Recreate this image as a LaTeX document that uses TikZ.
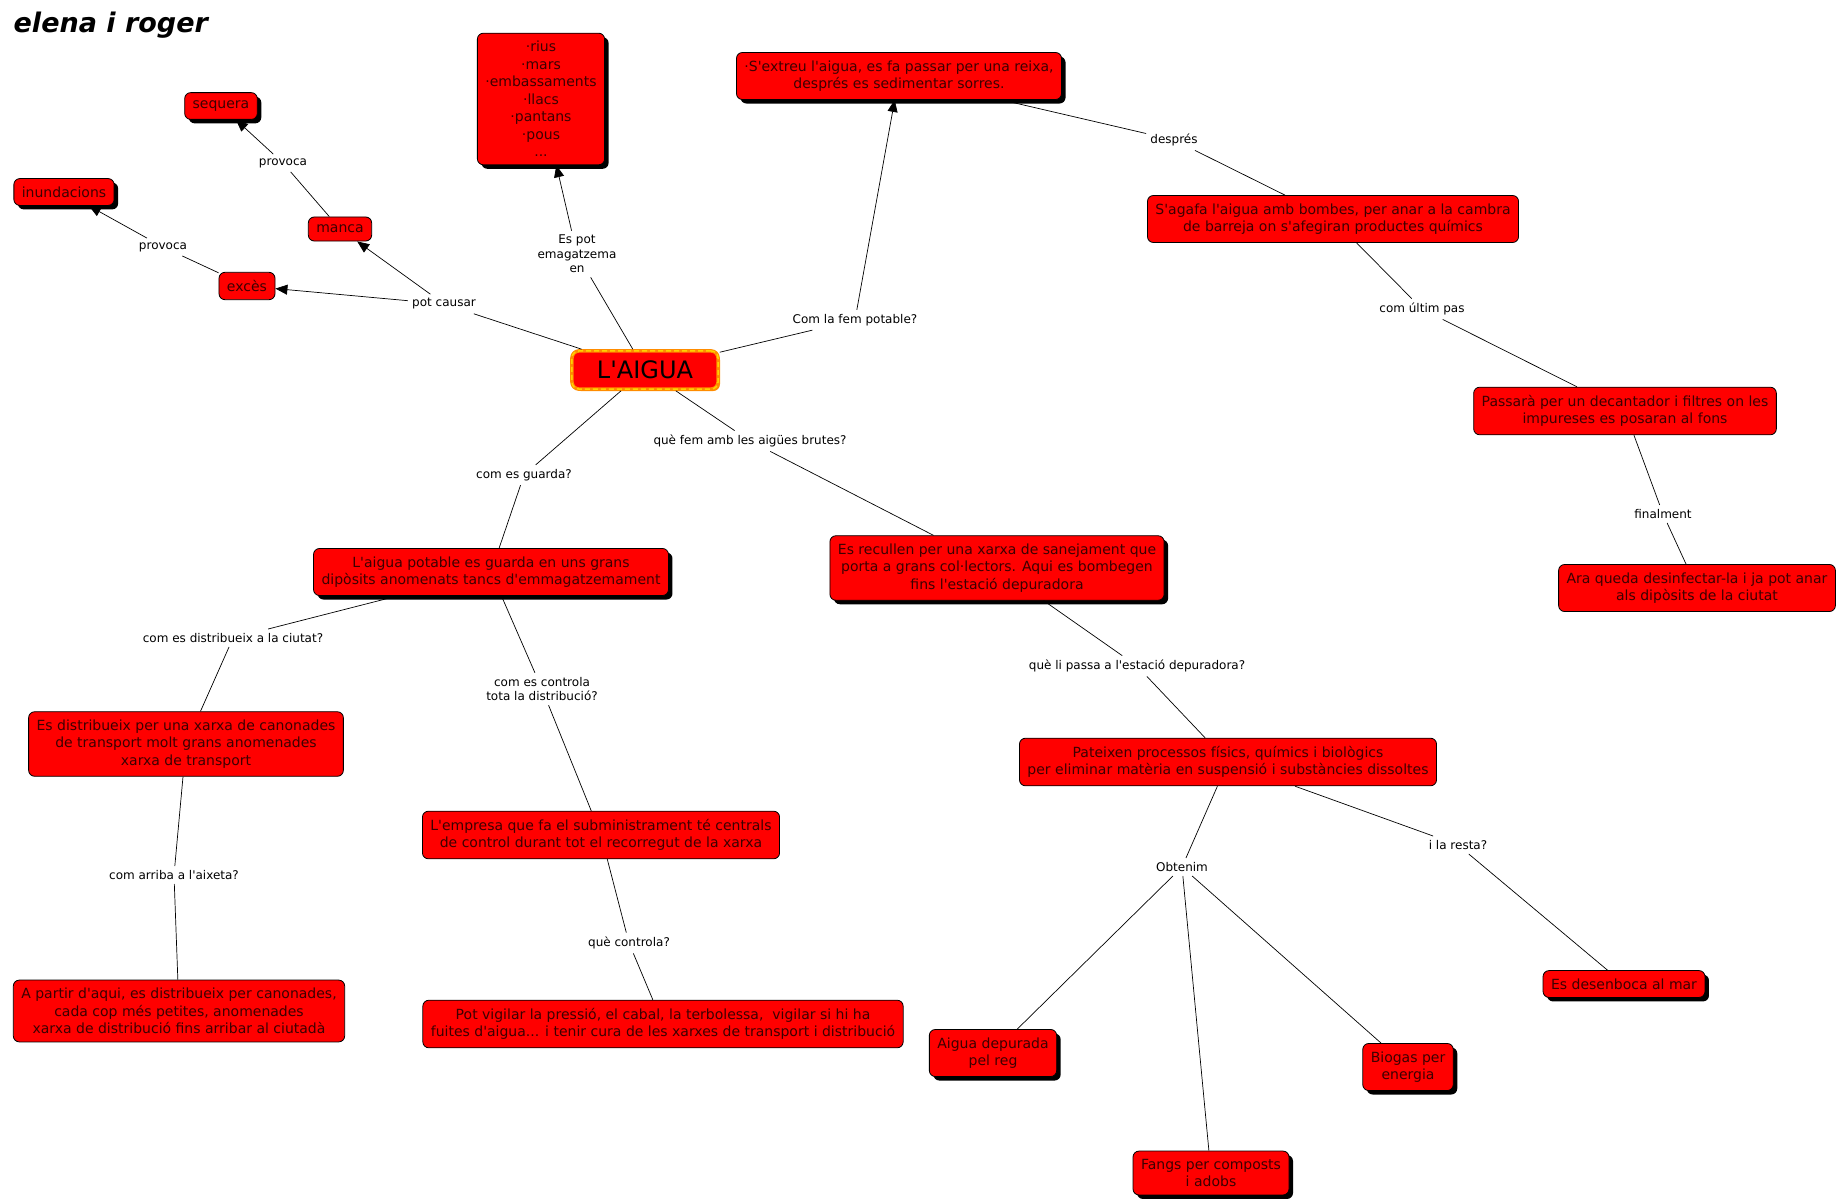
\documentclass[tikz,border=0pt]{standalone}
\usepackage{fontspec}
\setmainfont{DejaVu Sans}[Ligatures=TeXOff]
\newfontfamily\titolfont{DejaVu Sans}
\usetikzlibrary{arrows.meta,shadows}
\definecolor{vermell}{RGB}{255,0,0}
\definecolor{textfosc}{RGB}{60,0,0}
\definecolor{taronja}{RGB}{255,140,0}
\definecolor{groc}{RGB}{255,210,0}
\tikzset{
  concepte/.style={draw=black, fill=vermell, rounded corners=6pt, line width=0.8pt,
    align=center, text=textfosc, inner xsep=8pt, inner ysep=8pt,
    font=\fontsize{14}{17.5}\selectfont},
  ombra/.style={concepte, drop shadow={shadow xshift=4pt, shadow yshift=-4pt, fill=black, opacity=1}},
  central/.style={fill=vermell, draw=taronja, line width=3.5pt, rounded corners=7pt,
    inner xsep=25pt, inner ysep=10pt, text=black, font=\fontsize{24}{28}\selectfont,
    drop shadow={shadow xshift=2pt, shadow yshift=-2pt, fill=taronja, opacity=1},
    postaction={draw=groc, line width=1.5pt, dash pattern=on 5pt off 3pt}},
  enllac/.style={align=center, inner sep=4pt, font=\fontsize{12}{14.5}\selectfont},
  fletxa/.style={-{Triangle[length=12pt,width=10pt]}},
}
\begin{document}
\begin{tikzpicture}[x=1pt, y=-1pt, line width=0.7pt]
    \useasboundingbox (0,0) rectangle (1843,1201);

    \node[anchor=west, font=\titolfont\fontsize{27}{30}\selectfont\bfseries\itshape] (titol) at (10,25) {elena i roger};

    \node[central] (aigua) at (645,370) {L'AIGUA};

    \node[ombra] (rius) at (541,99) {·rius\\·mars\\·embassaments\\·llacs\\·pantans\\·pous\\...};
    \node[ombra] (extreu) at (899,76) {·S'extreu l'aigua, es fa passar per una reixa,\\després es sedimentar sorres.};
    \node[ombra] (sequera) at (221,106) {sequera};
    \node[ombra] (inund) at (64,192) {inundacions};
    \node[concepte] (manca) at (340,229) {manca};
    \node[concepte] (exces) at (247,286) {excès};
    \node[concepte] (agafa) at (1333,219) {S'agafa l'aigua amb bombes, per anar a la cambra\\de barreja on s'afegiran productes químics};
    \node[concepte] (passara) at (1625,411) {Passarà per un decantador i filtres on les\\impureses es posaran al fons};
    \node[concepte] (araqueda) at (1697,588) {Ara queda desinfectar-la i ja pot anar\\als dipòsits de la ciutat};
    \node[ombra] (guarda) at (491,572) {L'aigua potable es guarda en uns grans\\dipòsits anomenats tancs d'emmagatzemament};
    \node[ombra] (recullen) at (997,568) {Es recullen per una xarxa de sanejament que\\porta a grans col·lectors. Aqui es bombegen\\fins l'estació depuradora};
    \node[concepte] (distribueix) at (186,744) {Es distribueix per una xarxa de canonades\\de transport molt grans anomenades\\xarxa de transport};
    \node[concepte] (pateixen) at (1228,762) {Pateixen processos físics, químics i biològics\\per eliminar matèria en suspensió i substàncies dissoltes};
    \node[concepte] (empresa) at (601,835) {L'empresa que fa el subministrament té centrals\\de control durant tot el recorregut de la xarxa};
    \node[concepte] (apartir) at (179,1011) {A partir d'aqui, es distribueix per canonades,\\cada cop més petites, anomenades\\xarxa de distribució fins arribar al ciutadà};
    \node[ombra] (desenboca) at (1624,984) {Es desenboca al mar};
    \node[concepte] (vigilar) at (663,1024) {Pot vigilar la pressió, el cabal, la terbolessa,\ \ vigilar si hi ha\\fuites d'aigua... i tenir cura de les xarxes de transport i distribució};
    \node[ombra] (depurada) at (993,1053) {Aigua depurada\\pel reg};
    \node[ombra] (biogas) at (1408,1067) {Biogas per\\energia};
    \node[ombra] (fangs) at (1211,1173) {Fangs per composts\\i adobs};

    \node[enllac] (provoca1) at (283,163) {provoca};
    \node[enllac] (provoca2) at (163,247) {provoca};
    \node[enllac] (potcausar) at (444,304) {pot causar};
    \node[enllac] (espot) at (577,254) {Es pot\\emagatzema\\en};
    \node[enllac] (comfem) at (855,320) {Com la fem potable?};
    \node[enllac] (despres) at (1174,140) {després};
    \node[enllac] (ultim) at (1422,309) {com últim pas};
    \node[enllac] (finalment) at (1663,514) {finalment};
    \node[enllac] (brutes) at (750,441) {què fem amb les aigües brutes?};
    \node[enllac] (comguarda) at (524,475) {com es guarda?};
    \node[enllac] (comdistr) at (233,638) {com es distribueix a la ciutat?};
    \node[enllac] (comcontrola) at (542,689) {com es controla\\tota la distribució?};
    \node[enllac] (depuradora) at (1137,666) {què li passa a l'estació depuradora?};
    \node[enllac] (resta) at (1458,845) {i la resta?};
    \node[enllac] (obtenim) at (1182,867) {Obtenim};
    \node[enllac] (aixeta) at (174,875) {com arriba a l'aixeta?};
    \node[enllac] (controla) at (629,943) {què controla?};

    \draw (aigua) -- (potcausar);
    \draw[fletxa] (potcausar) -- (manca);
    \draw[fletxa] (potcausar) -- (exces);
    \draw (manca) -- (provoca1);
    \draw[fletxa] (provoca1) -- (sequera);
    \draw (exces) -- (provoca2);
    \draw[fletxa] (provoca2) -- (inund);
    \draw (aigua) -- (espot);
    \draw[fletxa] (espot) -- (rius);
    \draw (aigua) -- (comfem);
    \draw[fletxa] (comfem) -- (extreu);

    \draw (extreu) -- (despres);
    \draw (despres) -- (agafa);
    \draw (agafa) -- (ultim);
    \draw (ultim) -- (passara);
    \draw (passara) -- (finalment);
    \draw (finalment) -- (araqueda);

    \draw (aigua) -- (comguarda);
    \draw (comguarda) -- (guarda);
    \draw (guarda) -- (comdistr);
    \draw (comdistr) -- (distribueix);
    \draw (distribueix) -- (aixeta);
    \draw (aixeta) -- (apartir);
    \draw (guarda) -- (comcontrola);
    \draw (comcontrola) -- (empresa);
    \draw (empresa) -- (controla);
    \draw (controla) -- (vigilar);

    \draw (aigua) -- (brutes);
    \draw (brutes) -- (recullen);
    \draw (recullen) -- (depuradora);
    \draw (depuradora) -- (pateixen);
    \draw (pateixen) -- (obtenim);
    \draw (obtenim) -- (depurada);
    \draw (obtenim) -- (fangs);
    \draw (obtenim) -- (biogas);
    \draw (pateixen) -- (resta);
    \draw (resta) -- (desenboca);
\end{tikzpicture}
\end{document}
